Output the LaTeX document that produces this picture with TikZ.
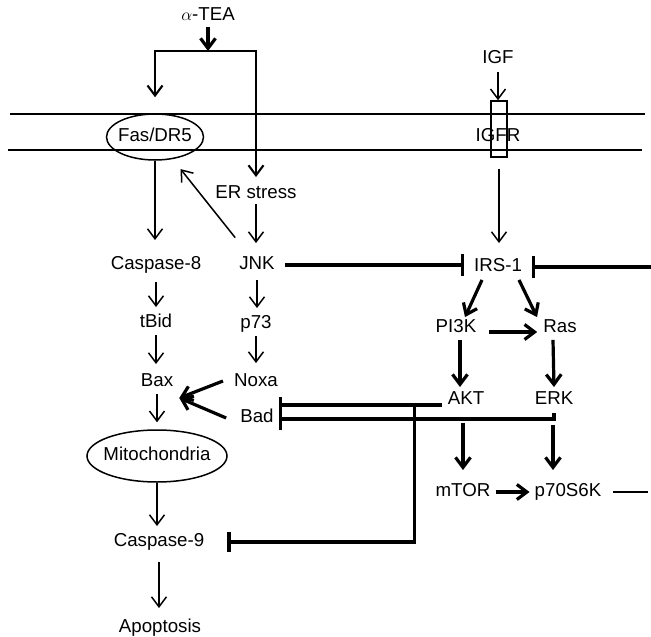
\documentclass[tikz,border=0pt]{standalone}
\usepackage{fontspec}
\setmainfont{Liberation Sans}
\usetikzlibrary{arrows.meta,calc,shapes.geometric}
\newcommand\figfont{\fontsize{18.7}{22}\selectfont}
\begin{document}
\begin{tikzpicture}[x=1pt,y=-1pt,
  lbl/.style={inner sep=0pt,text height=13.5pt,text depth=4pt,font=\figfont},
  ring/.style={draw,ellipse,line width=1.5pt,inner sep=0pt},
  ln/.style={line width=1.5pt},
  md/.style={line width=2.1pt},
  tk/.style={line width=3.2pt},
  ar/.style={-{Straight Barb[length=10pt,width=15pt]}},
  inh/.style={-{Bar[width=#1]}}]
\useasboundingbox (0,0) rectangle (651,637);
% membrane
\coordinate (m1a) at (10,114); \coordinate (m1b) at (645,114);
\coordinate (m2a) at (8,150);  \coordinate (m2b) at (642,150);
\draw[ln] (m1a) -- (m1b);
\draw[ln] (m2a) -- (m2b);
% nodes
\node[lbl] (tea) at (208,16) {\(\alpha\)-TEA};
\coordinate (br) at (208,51);
\node[lbl] (fas) at (155,137) {Fas/DR5};
\node[ring,minimum width=97pt,minimum height=46pt] (fasring) at (155,137) {};
\node[lbl] (igf) at (498,59) {IGF};
\node[lbl] (igfr) at (498,137) {IGFR};
\node[draw,ln,inner sep=0pt,minimum width=16pt,minimum height=56pt] (igfrbox) at (499,129) {};
\node[lbl] (er) at (256,194) {ER stress};
\node[lbl] (casp8) at (156,265) {Caspase-8};
\node[lbl] (jnk) at (257,265) {JNK};
\node[lbl] (irs) at (498,267) {IRS-1};
\node[lbl] (tbid) at (156,323) {tBid};
\node[lbl] (p73) at (256,324) {p73};
\node[lbl] (pi3k) at (456,328) {PI3K};
\node[lbl] (ras) at (560,328) {Ras};
\node[lbl] (bax) at (157,382) {Bax};
\node[lbl] (noxa) at (256,382) {Noxa};
\node[lbl] (bad) at (257,418) {Bad};
\node[lbl] (akt) at (466,400) {AKT};
\node[lbl] (erk) at (554,400) {ERK};
\node[lbl] (mito) at (157,456) {Mitochondria};
\node[ring,minimum width=140pt,minimum height=52pt] (mitoring) at (157,456) {};
\node[lbl] (mtor) at (463,492) {mTOR};
\node[lbl] (p70) at (568,492) {p70S6K};
\node[lbl] (casp9) at (159,542) {Caspase-9};
\node[lbl] (apop) at (160,628) {Apoptosis};
% alpha-TEA branches
\draw[tk,ar,shorten <=2pt] (tea.south) -- (br);
\draw[md,ar,shorten >=16pt] (br) -| (fasring.north);
\draw[md,ar,shorten >=8pt] (br) -| (er.north);
% IGF pathway
\draw[ln,ar,shorten <=4pt] (igf.south) -- (igf.south |- igfrbox.north);
\draw[ln,ar,shorten <=11pt,shorten >=15pt] (igfrbox.south) -- (igfrbox.south |- irs.north);
% left column
\draw[ln,ar,shorten >=16pt] (fasring.south) -- (fasring.south |- casp8.north);
\draw[ln,ar,shorten <=35pt,shorten >=41pt] (jnk.center) -- (fasring.center);
\draw[ln,ar,shorten <=1pt,shorten >=13pt] (er.south) -- (er.south |- jnk.north);
\draw[ln,ar,shorten <=8pt,shorten >=7pt] (casp8.south) -- (casp8.south |- tbid.north);
\draw[ln,ar,shorten <=3pt,shorten >=9pt] (tbid.south) -- (tbid.south |- bax.north);
\draw[ln,ar,shorten <=3pt,shorten >=7pt] (bax.south) -- (bax.south |- mitoring.north);
\draw[ln,ar,shorten >=7pt] (mitoring.south) -- (mitoring.south |- casp9.north);
\draw[ln,ar,shorten <=11pt,shorten >=11pt] (casp9.south) -- (casp9.south |- apop.north);
\draw[ln,ar,shorten <=6pt,shorten >=7pt] (jnk.south) -- (jnk.south |- p73.north);
\draw[ln,ar,shorten <=3pt,shorten >=10pt] (p73.south) -- (p73.south |- noxa.north);
\draw[tk,ar] ($(noxa.west)+(-11,-1)$) -- ($(bax.east)+(6,16)$);
\draw[tk,ar] ($(bad.west)+(-14,0)$) -- ($(bax.east)+(6,16)$);
% JNK -| IRS-1 and right inhibitor
\draw[tk,inh=22pt,shorten <=10pt,shorten >=10pt] (jnk.east) -- (jnk.east -| irs.west);
\coordinate (rimA) at (651,265);
\draw[tk,{Bar[width=22pt]}-,shorten <=9.5pt] (irs.east) -- (irs.east -| rimA);
% IRS-1 downstream
\draw[tk,ar] ($(irs.south)+(-16,4)$) -- ($(pi3k.north)+(9,-2)$);
\draw[tk,ar] ($(irs.south)+(21,4)$) -- ($(ras.north)+(-23,-2)$);
\draw[tk,ar,shorten <=13pt,shorten >=6pt] ([yshift=-4pt]pi3k.east) -- ([yshift=-4pt]pi3k.east -| ras.west);
\draw[tk,ar] ($(pi3k.south)+(4,3)$) -- ($(akt.north)+(-6,-4)$);
\draw[tk,ar] ($(ras.south)+(-7,3)$) -- ($(erk.north)+(0,-4)$);
\draw[tk,ar] ($(akt.south)+(-3,14)$) -- ($(mtor.north)+(0,-13)$);
\draw[tk,ar] ($(erk.south)+(-1,16)$) -- ($(p70.north)+(-15,-13)$);
\draw[tk,ar,shorten <=5pt,shorten >=5pt] (mtor.east) -- (p70.west);
\coordinate (rimB) at (648,492);
\draw[md,shorten <=12pt] (p70.east) -- (rimB);
% inhibition of Bad and Caspase-9
\coordinate (bbt) at ($(bad.east)+(7,-21)$);
\coordinate (bbb) at ($(bad.east)+(7,12)$);
\coordinate (blow) at ($(bad.east)+(7,1)$);
\draw[tk] (bbt) -- (bbb);
\draw[tk,shorten <=6pt] ([yshift=-5pt]akt.west) -- ([yshift=-5pt]akt.west -| bbt);
\draw[tk] ([yshift=-4pt]erk.south) |- (blow);
\coordinate (vtop) at ($(akt.west)+(-33,6)$);
\draw[tk,inh=20pt,shorten >=23pt] (vtop) |- (casp9.east);
\end{tikzpicture}
\end{document}
